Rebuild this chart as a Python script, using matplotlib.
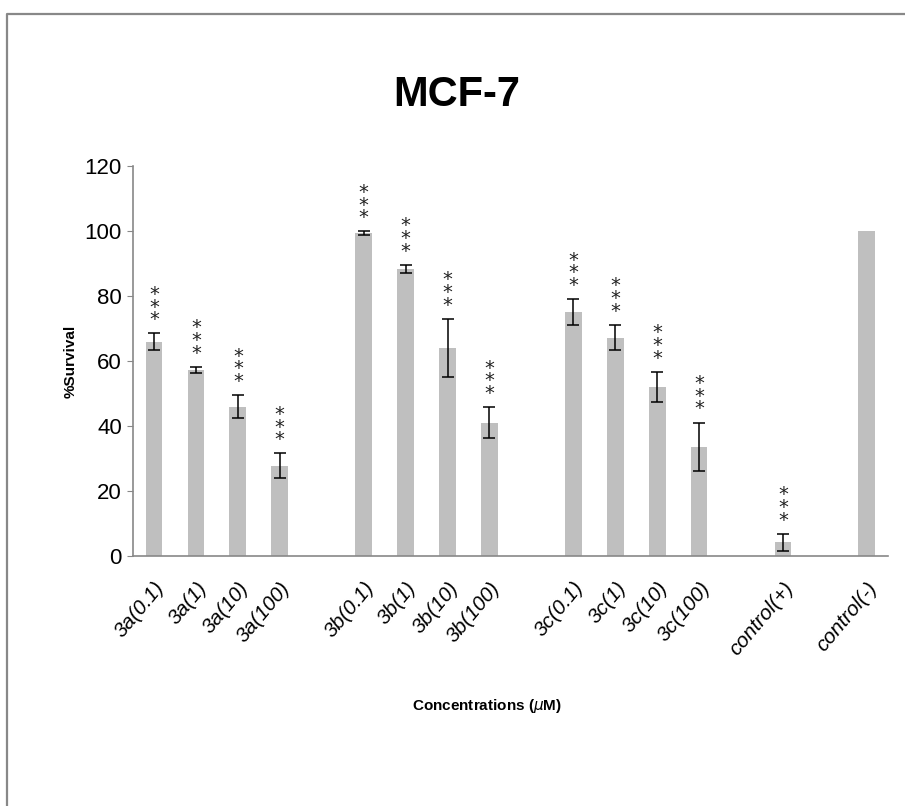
import matplotlib
matplotlib.use('Agg')
import matplotlib.pyplot as plt
from matplotlib.lines import Line2D
import numpy as np

# bar labels, in plotting order (None = empty slot between groups)
labels = ['3a(0.1)', '3a(1)', '3a(10)', '3a(100)', None,
          '3b(0.1)', '3b(1)', '3b(10)', '3b(100)', None,
          '3c(0.1)', '3c(1)', '3c(10)', '3c(100)', None,
          'control(+)', None, 'control(-)']
survival = [66.0, 57.2, 46.0, 27.8, None,
            99.4, 88.4, 64.0, 41.1, None,
            75.1, 67.2, 52.1, 33.6, None,
            4.2, None, 100.0]
errors = [2.5, 1.0, 3.5, 3.8, None,
          0.5, 1.2, 9.0, 4.7, None,
          3.9, 3.9, 4.6, 7.5, None,
          2.6, None, np.nan]
signif = ['***', '***', '***', '***', None,
          '***', '***', '***', '***', None,
          '***', '***', '***', '***', None,
          '***', None, '']

plt.rcParams['font.family'] = ['Liberation Sans', 'DejaVu Sans']
plt.rcParams['mathtext.fontset'] = 'dejavusans'

fig = plt.figure(figsize=(9.05, 8.06), dpi=100)
ax = fig.add_axes([0.147, 0.310, 0.834, 0.484])

pos = [i for i, v in enumerate(survival) if v is not None]
vals = [survival[i] for i in pos]
errs = [errors[i] for i in pos]

ax.bar(pos, vals, width=0.4, color='#bfbfbf', zorder=2)
ax.errorbar(pos, vals, yerr=errs, fmt='none', ecolor='black', elinewidth=1.1,
            capsize=4, capthick=1.1, zorder=3)

# significance stars, stacked above error bar
for p in pos:
    if signif[p]:
        top = survival[p] + errors[p]
        ax.annotate('*\n*\n*', xy=(p, top), xytext=(0, 3),
                    textcoords='offset points', ha='center', va='bottom',
                    fontsize=14, linespacing=0.58, color='#222222',
                    family='DejaVu Sans')

ax.set_xlim(-0.5, len(labels) - 0.5)
ax.set_ylim(0, 120)
ax.set_yticks(np.arange(0, 121, 20))
ax.tick_params(axis='y', labelsize=16, length=4, color='#888888', pad=4)
ax.set_xticks(pos)
ax.set_xticklabels([labels[i] for i in pos], rotation=50, ha='right',
                   rotation_mode='anchor', fontsize=15, style='italic')
ax.tick_params(axis='x', length=0, pad=16)

for s in ['top', 'right']:
    ax.spines[s].set_visible(False)
for s in ['left', 'bottom']:
    ax.spines[s].set_color('#888888')
    ax.spines[s].set_linewidth(1.2)

ax.set_ylabel('%Survival', fontsize=11, fontweight='bold', labelpad=5)
fig.text(0.538, 0.124, 'Concentrations ($\\mu$M)', ha='center', va='center',
         fontsize=11, fontweight='bold')
fig.text(0.505, 0.882, 'MCF-7', ha='center', va='center', fontsize=30,
         fontweight='bold')

# outer chart frame (only left and top edges visible)
fig.add_artist(Line2D([0.008, 0.008, 1.0], [0.0, 0.983, 0.983],
                      transform=fig.transFigure, color='#888888', lw=1.6))

fig.savefig('out.png', dpi=100)
